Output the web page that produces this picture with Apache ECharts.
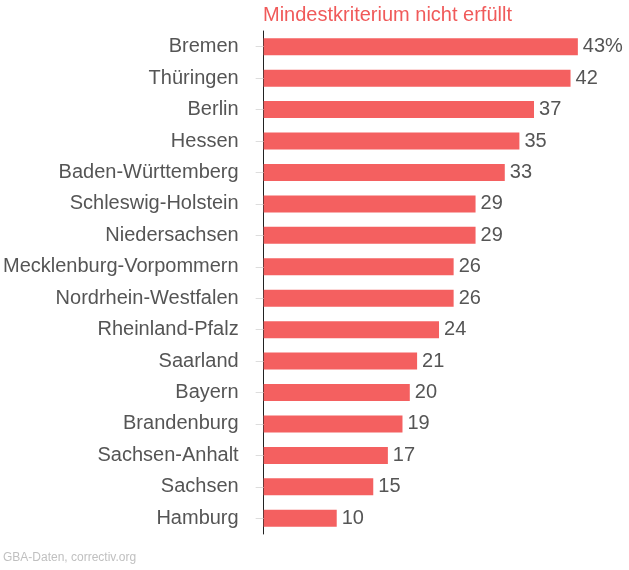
<!DOCTYPE html>
<html><head><meta charset="utf-8">
<script src="https://cdn.jsdelivr.net/npm/echarts@6/dist/echarts.min.js"></script>
<style>html,body{margin:0;padding:0;background:#fff}#c{width:629px;height:570px}</style>
</head><body><div id="c"></div>
<script>
const categories = ["Bremen","Thüringen","Berlin","Hessen","Baden-Württemberg","Schleswig-Holstein","Niedersachsen","Mecklenburg-Vorpommern","Nordrhein-Westfalen","Rheinland-Pfalz","Saarland","Bayern","Brandenburg","Sachsen-Anhalt","Sachsen","Hamburg"];
const values = [43,42,37,35,33,29,29,26,26,24,21,20,19,17,15,10];
const titleText = "Mindestkriterium nicht erfüllt";
const sourceText = "GBA-Daten, correctiv.org";

const font = "'Liberation Sans', Helvetica, Arial, sans-serif";
const chart = echarts.init(document.getElementById('c'));
chart.setOption({
  animation: false,
  title: [
    {text: titleText, left: 263, top: 5, padding: 0, textStyle: {color: '#f05a5a', fontSize: 20, fontWeight: 'normal', fontFamily: font}},
    {text: sourceText, left: 3, top: 552, padding: 0, textStyle: {color: '#c0c0c0', fontSize: 12, fontWeight: 'normal', fontFamily: font}}
  ],
  grid: {left: 262, right: 0, top: 31, bottom: 36},
  xAxis: {type: 'value', min: 0, max: 50, show: false},
  yAxis: [
    {type: 'category', data: categories, inverse: true, offset: 7,
     axisLine: {show: false},
     axisTick: {show: true, alignWithLabel: true, length: 8, lineStyle: {color: '#ddd'}},
     axisLabel: {color: '#555', fontSize: 20, fontFamily: font, margin: 18}},
    {type: 'category', data: categories, inverse: true, position: 'left',
     axisLine: {show: true, lineStyle: {color: '#222', width: 1}},
     axisTick: {show: false}, axisLabel: {show: false}}
  ],
  series: [{
    type: 'bar', data: values, barWidth: 17, yAxisIndex: 0,
    itemStyle: {color: '#f46060'},
    label: {show: true, position: 'right', distance: 5, color: '#555', fontSize: 20, fontFamily: font,
      formatter: p => p.dataIndex === 0 ? p.value + '%' : String(p.value)}
  }]
});
</script></body></html>
